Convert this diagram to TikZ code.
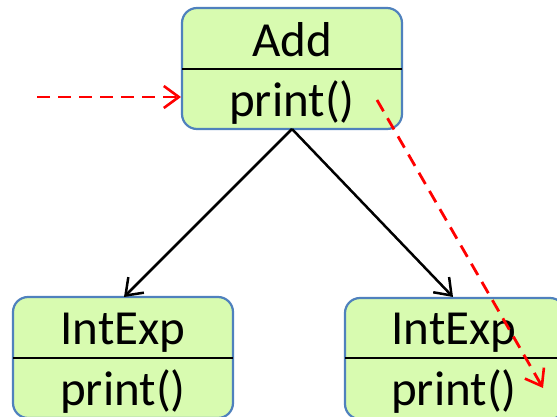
\documentclass[tikz,border=0pt]{standalone}
\usepackage{fontspec}
\setmainfont{Carlito}
\usetikzlibrary{arrows.meta}
\definecolor{boxfill}{RGB}{216,251,176}
\definecolor{boxline}{RGB}{79,129,189}
\definecolor{redline}{RGB}{255,0,0}
\tikzset{
  classbox/.style={draw=boxline, fill=boxfill, line width=2.2pt, rounded corners=15pt},
  divider/.style={draw=black, line width=2.8pt},
  label/.style={anchor=base, inner sep=0pt, font=\fontsize{49}{49}\selectfont},
  assoc/.style={draw=black, line width=2.5pt, -{Straight Barb[length=15pt,width=22pt,line width=2.5pt]}},
  call/.style={draw=redline, line width=2.8pt, dash pattern=on 13pt off 8pt, -{Straight Barb[length=15pt,width=22pt,line width=2.6pt]}}
}
\begin{document}
\begin{tikzpicture}[x=1pt,y=1pt]
\useasboundingbox (0,0) rectangle (557,-417);
\clip (0,0) rectangle (557,-417);
% Add box
\draw[classbox] (182,-8) rectangle (402,-129);
\draw[divider] (182,-69) -- (402,-69);
\node[label] (addname) at (292,-57) {Add};
\node[label] (addop) at (292,-117) {print()};
\coordinate (addbot) at (292,-129);
\coordinate (addleft) at (181,-97);
% Left IntExp
\draw[classbox] (13,-297) rectangle (233,-418);
\draw[divider] (13,-358) -- (233,-358);
\node[label] (lname) at (123,-344) {IntExp};
\node[label] (lop) at (123,-405) {print()};
\coordinate (ltop) at (124,-297);
% Right IntExp
\draw[classbox] (345,-298) rectangle (565,-419);
\draw[divider] (345,-358) -- (565,-358);
\node[label] (rname) at (454,-344) {IntExp};
\node[label] (rop) at (454,-405) {print()};
\coordinate (rtop) at (453,-297);
% connectors
\draw[assoc] (addbot) -- (ltop);
\draw[assoc] (addbot) -- (rtop);
\coordinate (instart) at (37,-97);
\draw[call] (instart) -- (addleft);
\coordinate (outstart) at (377,-100);
\coordinate (outend) at (543,-388);
\draw[call] (outstart) -- (outend);
\end{tikzpicture}
\end{document}
